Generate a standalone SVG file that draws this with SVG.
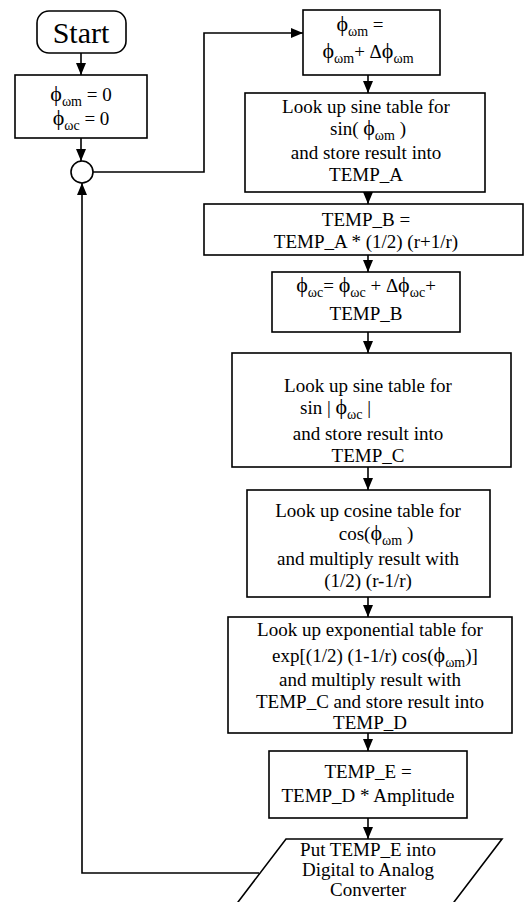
<svg xmlns="http://www.w3.org/2000/svg" width="525" height="902" viewBox="0 0 525 902">
<defs>
<marker id="ah" markerUnits="userSpaceOnUse" markerWidth="12" markerHeight="10" refX="12" refY="5" orient="auto">
<path d="M0,0 L12,5 L0,10 z" fill="#000"/>
</marker>
<style>
.box{fill:#fff;stroke:#000;stroke-width:1.6}
.t{font-family:"Liberation Serif","DejaVu Serif",serif;font-size:19px;fill:#000;text-anchor:middle}
.s{font-size:14px}
.p{font-size:22px}
.c{fill:none;stroke:#000;stroke-width:1.6;marker-end:url(#ah)}
</style>
</defs>
<rect width="525" height="902" fill="#fff"/>
<g id="connectors">
<path class="c" d="M81,53 V75"/>
<path class="c" d="M81,138 V161"/>
<path class="c" d="M93,172 H204 V33 H303"/>
<path class="c" d="M368,75 V93"/>
<path class="c" d="M368,192 V204"/>
<path class="c" d="M368,255 V272"/>
<path class="c" d="M368,332 V353"/>
<path class="c" d="M368,467 V490"/>
<path class="c" d="M368,597 V617"/>
<path class="c" d="M368,733 V751"/>
<path class="c" d="M368,818 V839"/>
<path class="c" d="M259,873 H82 V183"/>
</g>
<g id="start">
<rect class="box" x="37" y="11" width="89" height="42" rx="12"/>
<text class="t" x="81" y="43" style="font-size:30px">Start</text>
</g>
<g id="init">
<rect class="box" x="15" y="75" width="132" height="63"/>
<text class="t" x="81" y="101"><tspan class="p">ϕ</tspan><tspan class="s" dy="5">ωm</tspan><tspan dy="-5"> = 0</tspan></text>
<text class="t" x="81" y="125"><tspan class="p">ϕ</tspan><tspan class="s" dy="5">ωc</tspan><tspan dy="-5"> = 0</tspan></text>
</g>
<g id="junction">
<circle cx="82" cy="172" r="11" class="box"/>
</g>
<g id="update_m">
<rect class="box" x="303" y="10" width="137" height="65"/>
<text class="t" x="360" y="31"><tspan class="p">ϕ</tspan><tspan class="s" dy="5">ωm</tspan><tspan dy="-5">   =</tspan></text>
<text class="t" x="368" y="58"><tspan class="p">ϕ</tspan><tspan class="s" dy="5">ωm</tspan><tspan dy="-5">+ Δ</tspan><tspan class="p">ϕ</tspan><tspan class="s" dy="5">ωm</tspan></text>
</g>
<g id="sine_a">
<rect class="box" x="245" y="93" width="240" height="99"/>
<text class="t" x="366" y="113">Look up sine table for</text>
<text class="t" x="368" y="135">sin( <tspan class="p">ϕ</tspan><tspan class="s" dy="5">ωm</tspan><tspan dy="-5"> )</tspan></text>
<text class="t" x="366" y="159">and store result into</text>
<text class="t" x="366" y="181">TEMP_A</text>
</g>
<g id="temp_b">
<rect class="box" x="204" y="204" width="319" height="51"/>
<text class="t" x="366" y="226">TEMP_B =</text>
<text class="t" x="366" y="248">TEMP_A * (1/2) (r+1/r)</text>
</g>
<g id="update_c">
<rect class="box" x="272" y="272" width="188" height="60"/>
<text class="t" x="366" y="292"><tspan class="p">ϕ</tspan><tspan class="s" dy="5">ωc</tspan><tspan dy="-5">= </tspan><tspan class="p">ϕ</tspan><tspan class="s" dy="5">ωc</tspan><tspan dy="-5"> +  Δ</tspan><tspan class="p">ϕ</tspan><tspan class="s" dy="5">ωc</tspan><tspan dy="-5">+</tspan></text>
<text class="t" x="366" y="320">TEMP_B</text>
</g>
<g id="sine_c">
<rect class="box" x="232" y="353" width="279" height="114"/>
<text class="t" x="368" y="392">Look up sine table for</text>
<text class="t" x="300" y="414" style="text-anchor:start">sin |  <tspan class="p">ϕ</tspan><tspan class="s" dy="5">ωc</tspan><tspan dy="-5">  |</tspan></text>
<text class="t" x="368" y="440">and store result into</text>
<text class="t" x="368" y="462">TEMP_C</text>
</g>
<g id="cosine">
<rect class="box" x="247" y="490" width="243" height="107"/>
<text class="t" x="368" y="517">Look up cosine table for</text>
<text class="t" x="376" y="540">cos(<tspan class="p">ϕ</tspan><tspan class="s" dy="5">ωm</tspan><tspan dy="-5"> )</tspan></text>
<text class="t" x="368" y="565">and multiply result with</text>
<text class="t" x="368" y="587">(1/2) (r-1/r)</text>
</g>
<g id="exponential">
<rect class="box" x="228" y="617" width="284" height="116"/>
<text class="t" x="370" y="636">Look up exponential table for</text>
<text class="t" x="375" y="662">exp[(1/2) (1-1/r) cos(<tspan class="p">ϕ</tspan><tspan class="s" dy="5">ωm</tspan><tspan dy="-5">)]</tspan></text>
<text class="t" x="370" y="686">and multiply result with</text>
<text class="t" x="370" y="708">TEMP_C and store result into</text>
<text class="t" x="370" y="729">TEMP_D</text>
</g>
<g id="temp_e">
<rect class="box" x="269" y="751" width="198" height="67"/>
<text class="t" x="368" y="778">TEMP_E =</text>
<text class="t" x="368" y="802">TEMP_D * Amplitude</text>
</g>
<g id="output">
<path class="box" d="M286,839 H502 L451,906 H235 Z"/>
<text class="t" x="368" y="856">Put TEMP_E into</text>
<text class="t" x="368" y="876">Digital to Analog</text>
<text class="t" x="368" y="896">Converter</text>
</g>
</svg>
